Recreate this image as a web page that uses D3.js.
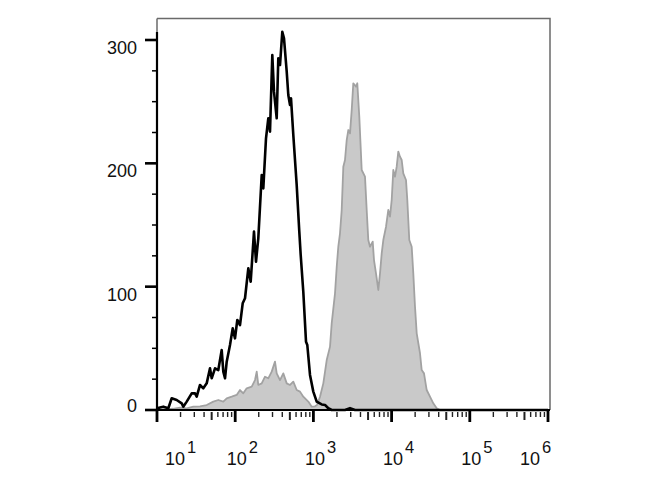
<!DOCTYPE html>
<html>
<head>
<meta charset="utf-8">
<script src="https://cdn.jsdelivr.net/npm/d3@7"></script>
<style>
  html, body { margin: 0; padding: 0; background: #ffffff; }
  svg { display: block; }
  text { font-family: "Liberation Sans", Arial, sans-serif; fill: #111; }
</style>
</head>
<body>
<svg id="chart" width="670" height="500"></svg>
<script>
// ---------- data ----------
// Control (open black histogram): fluorescence intensity and event count
const controlIntensity = [10, 12.04, 13.95, 15.42, 17.86, 20.7, 21.69, 23.98, 27.78, 30.62, 32.19, 35.47, 39.09, 43.2, 47.62, 50.06, 55.17, 60.8, 67.21, 70.45, 74.06, 77.87, 85.8, 92.9, 99.4, 106.4, 115.2, 124.7, 133.5, 147.1, 157.8, 173.9, 184.5, 197.4, 218.3, 228.8, 247.7, 265, 278.6, 298.2, 313.4, 339.4, 355.8, 374.1, 400.2, 420.8, 455.7, 477.6, 502.2, 517.2, 553.4, 611.5, 660.2, 688, 742.7, 804.3, 835.7, 904.6, 997, 1102, 1277, 1407, 1550, 1714, 2535, 2938, 3404, 1000000];
const controlCount = [1.4, 2.7, 1.4, 9.5, 8.1, 5.4, 2.7, 6.8, 13.5, 13.5, 10.8, 20.3, 17.6, 21.6, 33.8, 25.7, 33.8, 32.4, 48.6, 31.1, 25.7, 39.2, 52.7, 66.2, 58.1, 73, 68.9, 86.5, 90.6, 114.9, 104, 144.6, 120.2, 139.2, 190.5, 179.7, 220.3, 236.5, 225.7, 287.8, 258.1, 236.5, 285.1, 279.7, 306.7, 301.4, 274.3, 255.4, 247.3, 252.7, 223, 182.4, 144.6, 125.7, 95.9, 55.4, 52.7, 28.4, 14.9, 6.8, 4.5, 4.1, 1.4, 0, 0, 1.5, 0, 0];

// Stained sample (filled grey histogram)
const stainedIntensity = [10, 10.92, 16.02, 19.69, 23.98, 29.12, 35.47, 43.2, 52.47, 60.8, 70.45, 77.87, 90.22, 104.5, 115.2, 126.9, 140.3, 162.6, 179.1, 188.4, 197.4, 218.3, 240.5, 265, 293, 322.8, 339.4, 374.1, 412.2, 455.7, 502.2, 553.4, 611.5, 674, 742.7, 860.6, 951.2, 1048, 1112, 1215, 1339, 1480, 1631, 1714, 1889, 1987, 2082, 2189, 2301, 2413, 2535, 2666, 2795, 2938, 3089, 3237, 3505, 3642, 3864, 4147, 4568, 4803, 5035, 5293, 5733, 5956, 6317, 6760, 7108, 7472, 7833, 8482, 9076, 9539, 10030, 10513, 11053, 11620, 12181, 12806, 13463, 14111, 15282, 15879, 16839, 18072, 18945, 19917, 20941, 23078, 24262, 25963, 28111, 30974, 34136, 37734, 41582, 1000000];
const stainedCount = [0, 0, 1, 2, 1.4, 2.7, 3, 4, 6.8, 8.1, 6.8, 9.5, 10.8, 12.2, 16.2, 13.5, 17.6, 18.9, 24.3, 31.1, 20.3, 21.6, 27, 25.7, 31.1, 39.2, 29.7, 24.3, 29.7, 21.6, 20.3, 23, 16.2, 14.9, 10.8, 6.8, 2.7, 3, 4, 10.8, 21.6, 40.5, 51.4, 70.3, 94.6, 116.2, 132.4, 143.3, 162.2, 197.3, 202.7, 218.9, 227, 224.3, 243.2, 264.9, 262.2, 264.9, 237.8, 194.6, 189.2, 162.2, 137.8, 132.4, 136.5, 121.6, 110.8, 97.3, 110.8, 127, 137.8, 148.6, 162.2, 156.8, 170.3, 194.6, 189.2, 197.3, 209.5, 205.4, 202.7, 191.9, 186.5, 170.3, 137.8, 132.4, 110.8, 83.8, 62.2, 46, 32.4, 29.7, 16.2, 10.8, 5.4, 1.4, 0, 0];

const xTickValues = [1e1, 1e2, 1e3, 1e4, 1e5, 1e6];
const xTickExponents = ["1", "2", "3", "4", "5", "6"];
const yTickValues = [0, 100, 200, 300];

// ---------- layout ----------
const svg = d3.select("#chart");
const plotLeft = 157, plotRight = 548, frameRight = 550, frameTop = 18.5, plotBottom = 410;

const x = d3.scaleLog().domain([10, 1e6]).range([plotLeft, plotRight]);
const y = d3.scaleLinear().domain([0, 300]).range([plotBottom, 40]);

// ---------- frame ----------
svg.append("path")
  .attr("d", `M${plotLeft},${frameTop}H${frameRight}V${plotBottom}`)
  .attr("fill", "none").attr("stroke", "#6a6a6a").attr("stroke-width", 1.5);
svg.append("line")
  .attr("x1", plotLeft).attr("x2", plotLeft).attr("y1", frameTop).attr("y2", 32)
  .attr("stroke", "#6a6a6a").attr("stroke-width", 1.5);

// ---------- histograms ----------
const stained = stainedIntensity.map((v, i) => [v, stainedCount[i]]);
const control = controlIntensity.map((v, i) => [v, controlCount[i]]);

svg.append("path")
  .datum(stained)
  .attr("d", d3.area().x(d => x(d[0])).y0(y(0)).y1(d => y(d[1])))
  .attr("fill", "#c9c9c9");
svg.append("path")
  .datum(stained)
  .attr("d", d3.line().x(d => x(d[0])).y(d => y(d[1])))
  .attr("fill", "none").attr("stroke", "#a2a2a2").attr("stroke-width", 1.8)
  .attr("stroke-linejoin", "round");

svg.append("path")
  .datum(control)
  .attr("d", d3.line().x(d => x(d[0])).y(d => y(d[1])))
  .attr("fill", "none").attr("stroke", "#000").attr("stroke-width", 2.6)
  .attr("stroke-linejoin", "round");

// ---------- y axis ----------
svg.append("line")
  .attr("x1", plotLeft).attr("x2", plotLeft).attr("y1", 32).attr("y2", plotBottom + 1)
  .attr("stroke", "#000").attr("stroke-width", 2.2);

const yMinor = d3.range(0, 301, 25).filter(v => v % 100 !== 0);
svg.selectAll(".yminor").data(yMinor).join("line")
  .attr("x1", plotLeft - 5).attr("x2", plotLeft).attr("y1", d => y(d)).attr("y2", d => y(d))
  .attr("stroke", "#000").attr("stroke-width", 1.5);
svg.selectAll(".ymajor").data(yTickValues).join("line")
  .attr("x1", plotLeft - 12).attr("x2", plotLeft).attr("y1", d => y(d)).attr("y2", d => y(d))
  .attr("stroke", "#000").attr("stroke-width", 2.6);
svg.selectAll(".ylabel").data(yTickValues).join("text")
  .attr("x", 137)
  .attr("y", d => y(d) + (d === 0 ? 1.5 : 14))
  .attr("text-anchor", "end")
  .attr("font-size", 18)
  .text(d => d);

// ---------- x axis ----------
svg.append("line")
  .attr("x1", plotLeft - 1).attr("x2", frameRight).attr("y1", plotBottom).attr("y2", plotBottom)
  .attr("stroke", "#000").attr("stroke-width", 2.2);

const mantissa = d => Math.round(d / Math.pow(10, Math.floor(Math.log10(d) + 1e-9)));
const xMinor = x.ticks().filter(v => !xTickValues.includes(v));
svg.selectAll(".xminor").data(xMinor).join("line")
  .attr("x1", d => x(d)).attr("x2", d => x(d))
  .attr("y1", plotBottom + 2)
  .attr("y2", d => plotBottom + (mantissa(d) === 5 ? 10 : 7))
  .attr("stroke", "#222")
  .attr("stroke-width", d => mantissa(d) === 5 ? 2 : 1.4);
svg.selectAll(".xmajor").data(xTickValues).join("line")
  .attr("x1", d => x(d)).attr("x2", d => x(d))
  .attr("y1", plotBottom + 1).attr("y2", plotBottom + 12)
  .attr("stroke", "#000").attr("stroke-width", 2.8);

const labelG = svg.selectAll(".xlabel").data(xTickValues).join("g")
  .attr("transform", d => `translate(${Math.max(plotLeft + 18, Math.min(plotRight - 18, x(d) + 1.5))},0)`);
labelG.append("text")
  .attr("x", 0).attr("y", 465)
  .attr("text-anchor", "middle")
  .attr("font-size", 18)
  .text("10");
labelG.append("text")
  .attr("x", 12).attr("y", 453)
  .attr("text-anchor", "start")
  .attr("font-size", 16.5)
  .text((d, i) => xTickExponents[i]);
</script>
</body>
</html>
